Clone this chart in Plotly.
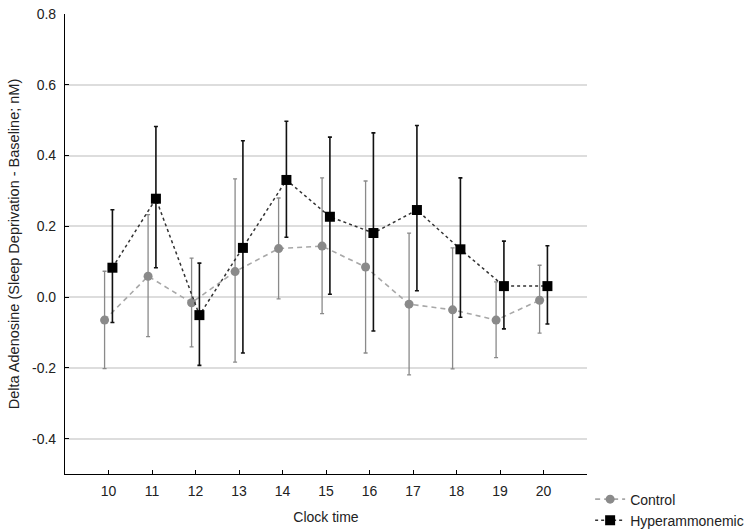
import plotly.graph_objects as go

hours = [10, 11, 12, 13, 14, 15, 16, 17, 18, 19, 20]
hour_labels = ["10", "11", "12", "13", "14", "15", "16", "17", "18", "19", "20"]

control_mean = [-0.065, 0.059, -0.016, 0.072, 0.137, 0.144, 0.085, -0.020, -0.036, -0.065, -0.009]
control_upper = [0.073, 0.233, 0.110, 0.334, 0.280, 0.337, 0.328, 0.181, 0.139, 0.043, 0.090]
control_lower = [-0.202, -0.112, -0.141, -0.184, -0.005, -0.047, -0.158, -0.220, -0.203, -0.171, -0.102]

hyper_mean = [0.083, 0.278, -0.051, 0.139, 0.331, 0.227, 0.181, 0.246, 0.135, 0.031, 0.031]
hyper_upper = [0.247, 0.482, 0.096, 0.442, 0.497, 0.452, 0.464, 0.485, 0.337, 0.158, 0.145]
hyper_lower = [-0.072, 0.083, -0.193, -0.158, 0.169, 0.008, -0.096, 0.018, -0.057, -0.090, -0.076]

y_ticks = [-0.4, -0.2, 0.0, 0.2, 0.4, 0.6, 0.8]
y_labels = ["-0.4", "-0.2", "0.0", "0.2", "0.4", "0.6", "0.8"]

offset = 0.09
cx = [h - offset for h in hours]
hx = [h + offset for h in hours]

fig = go.Figure()
fig.add_trace(go.Scatter(
    x=cx, y=control_mean, name="Control", mode="lines+markers",
    line=dict(color="#a8a8a8", width=1.6, dash="5px,4px"),
    marker=dict(symbol="circle", size=9, color="#8a8a8a"),
    error_y=dict(type="data", symmetric=False,
                 array=[u - m for u, m in zip(control_upper, control_mean)],
                 arrayminus=[m - l for l, m in zip(control_lower, control_mean)],
                 color="#8a8a8a", thickness=1.3, width=2),
))
fig.add_trace(go.Scatter(
    x=hx, y=hyper_mean, name="Hyperammonemic", mode="lines+markers",
    line=dict(color="#333333", width=1.5, dash="dot"),
    marker=dict(symbol="square", size=10, color="black"),
    error_y=dict(type="data", symmetric=False,
                 array=[u - m for u, m in zip(hyper_upper, hyper_mean)],
                 arrayminus=[m - l for l, m in zip(hyper_lower, hyper_mean)],
                 color="#111111", thickness=1.6, width=2),
))

font = "Liberation Sans, Arial, sans-serif"
fig.update_layout(
    width=754, height=532,
    margin=dict(l=65, r=167, t=14, b=58, autoexpand=False),
    plot_bgcolor="white", paper_bgcolor="white",
    font=dict(family=font, size=13, color="#222222"),
    showlegend=True,
    legend=dict(x=1.006, xanchor="left", y=-0.136, yanchor="bottom",
                font=dict(size=14, color="#222222"), bgcolor="rgba(0,0,0,0)",
                tracegroupgap=0, itemwidth=30),
    xaxis=dict(range=[9, 21], tickmode="array",
               tickvals=[9] + hours + [21], ticktext=[""] + hour_labels + [""],
               ticks="inside", ticklen=4, tickcolor="black",
               showline=True, linecolor="black", linewidth=1.2,
               showgrid=False, zeroline=False, automargin=False,
               ticklabelstandoff=4,
               title=dict(text="Clock time", font=dict(size=14), standoff=14),
               tickfont=dict(size=14)),
    yaxis=dict(range=[-0.5, 0.8], tickmode="array", tickvals=y_ticks,
               ticktext=y_labels, ticklabeloverflow="allow",
               ticks="inside", ticklen=4, tickcolor="black",
               showline=True, linecolor="black", linewidth=1.2,
               showgrid=True, gridcolor="#dddddd", gridwidth=1.5,
               zeroline=False, automargin=False,
               ticklabelstandoff=5,
               title=dict(text="Delta Adenosine (Sleep Deprivation - Baseline; nM)",
                          font=dict(size=14.5), standoff=8),
               tickfont=dict(size=14)),
)

fig.write_html("out.html",
               config={"displayModeBar": False},
               post_script="document.body.style.margin='0';document.body.style.overflow='hidden';")
